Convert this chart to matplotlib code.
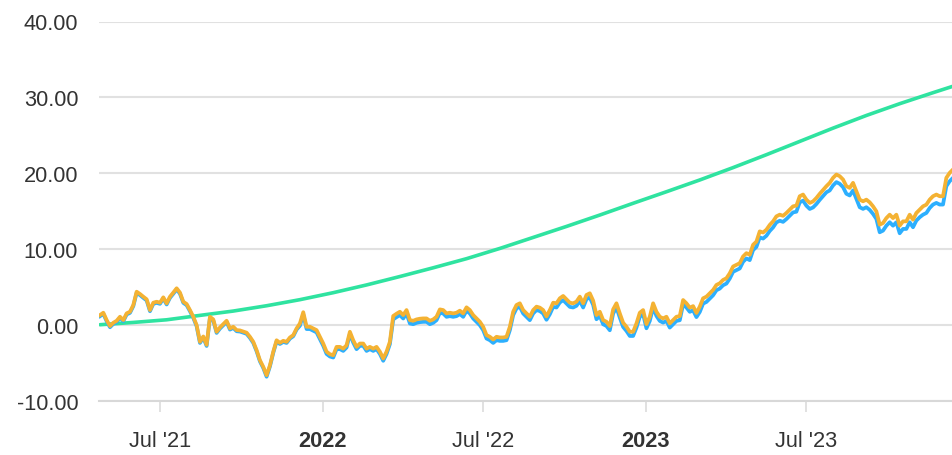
import matplotlib
matplotlib.use("Agg")
import matplotlib.pyplot as plt
import pandas as pd

# ---- data ----
start_date = "2021-04-24 03:00"
step = "5423min"   # sampling interval of the readings (~3.77 days)

orange_vals = [
    1.32, 1.63, 0.66, -0.13, 0.31, 0.57, 1.10, 0.66, 1.55, 1.76,
    2.65, 4.40, 4.10, 3.74, 3.40, 1.98, 2.95, 3.08, 2.95, 3.66,
    2.87, 3.74, 4.28, 4.85, 4.28, 3.08, 2.78, 1.98, 1.10, 0.00,
    -2.20, -1.50, -2.60, 1.10, 0.75, -0.88, -0.31, 0.13, 0.57, -0.44,
    -0.22, -0.66, -0.70, -0.85, -1.00, -1.54, -2.20, -3.30, -4.63, -5.50,
    -6.60, -5.30, -3.50, -2.00, -2.34, -2.07, -2.20, -1.63, -1.32, -0.44,
    0.22, 1.70, -0.22, -0.22, -0.44, -0.66, -1.54, -2.43, -3.50, -3.84,
    -3.97, -2.87, -2.87, -3.10, -2.65, -0.88, -2.00, -2.87, -2.43, -2.43,
    -3.10, -2.87, -3.10, -2.87, -3.50, -4.40, -3.50, -2.20, 1.20, 1.50,
    1.76, 1.32, 1.98, 0.66, 0.57, 0.75, 0.84, 0.88, 0.88, 0.57,
    0.75, 1.10, 2.07, 1.98, 1.54, 1.63, 1.54, 1.63, 1.90, 1.54,
    2.34, 1.98, 1.32, 0.88, 0.44, -0.22, -1.32, -1.54, -1.90, -1.54,
    -1.63, -1.63, -1.54, -0.22, 1.76, 2.65, 2.87, 1.98, 1.54, 1.10,
    1.98, 2.43, 2.30, 1.98, 1.15, 1.98, 2.95, 2.87, 3.53, 3.84,
    3.40, 2.95, 2.87, 3.09, 3.75, 2.87, 3.97, 4.19, 3.22, 1.32,
    1.76, 0.66, 0.44, -0.13, 2.07, 2.87, 1.54, 0.31, -0.22, -0.88,
    -0.88, 0.22, 1.63, 1.98, 0.13, 1.10, 2.87, 1.76, 1.10, 0.88,
    1.10, 0.22, 0.66, 1.10, 1.19, 3.30, 2.87, 2.30, 2.50, 1.60,
    2.43, 3.53, 3.75, 4.19, 4.63, 5.29, 5.51, 5.95, 6.17, 6.83,
    7.72, 7.94, 8.16, 9.04, 9.48, 9.26, 10.58, 11.00, 12.35, 12.20,
    12.57, 13.20, 13.67, 14.33, 14.55, 14.40, 14.77, 15.20, 15.65, 15.74,
    16.98, 17.20, 16.53, 16.10, 16.30, 16.75, 17.30, 17.80, 18.30, 18.74,
    19.40, 19.84, 19.62, 19.18, 18.30, 18.08, 18.74, 17.64, 16.53, 16.31,
    16.53, 16.18, 15.65, 14.99, 13.23, 13.45, 14.10, 14.55, 14.10, 14.55,
    13.10, 13.67, 13.67, 14.55, 13.89, 14.77, 15.21, 15.65, 15.87, 16.53,
    16.98, 17.20, 16.98, 16.98, 19.40, 20.06, 20.50,
]

blue_vals = [
    1.17, 1.48, 0.51, -0.28, 0.16, 0.42, 0.95, 0.51, 1.40, 1.61,
    2.50, 4.25, 3.95, 3.59, 3.25, 1.83, 2.80, 2.93, 2.80, 3.51,
    2.72, 3.59, 4.13, 4.70, 4.13, 2.93, 2.63, 1.83, 0.95, -0.15,
    -2.35, -1.65, -2.75, 0.95, 0.60, -1.03, -0.46, -0.02, 0.42, -0.59,
    -0.37, -0.81, -0.85, -1.00, -1.15, -1.69, -2.35, -3.45, -4.78, -5.65,
    -6.80, -5.45, -3.65, -2.15, -2.49, -2.22, -2.35, -1.78, -1.47, -0.59,
    -0.08, 1.40, -0.52, -0.52, -0.74, -0.96, -1.84, -2.73, -3.80, -4.14,
    -4.27, -3.17, -3.17, -3.40, -2.95, -1.18, -2.30, -3.17, -2.73, -2.73,
    -3.40, -3.17, -3.40, -3.17, -3.80, -4.70, -3.80, -2.50, 0.75, 1.05,
    1.31, 0.87, 1.53, 0.21, 0.12, 0.30, 0.39, 0.43, 0.43, 0.12,
    0.30, 0.65, 1.62, 1.53, 1.09, 1.18, 1.09, 1.18, 1.45, 1.09,
    1.89, 1.53, 0.87, 0.43, -0.01, -0.67, -1.77, -1.99, -2.35, -1.99,
    -2.08, -2.08, -1.99, -0.67, 1.31, 2.20, 2.42, 1.53, 1.09, 0.65,
    1.53, 1.98, 1.85, 1.53, 0.70, 1.43, 2.40, 2.32, 2.98, 3.29,
    2.85, 2.40, 2.32, 2.54, 3.20, 2.32, 3.42, 3.64, 2.67, 0.77,
    1.21, 0.11, -0.11, -0.68, 1.52, 2.32, 0.99, -0.24, -0.77, -1.43,
    -1.43, -0.33, 1.08, 1.43, -0.42, 0.55, 2.32, 1.21, 0.55, 0.33,
    0.55, -0.33, 0.11, 0.55, 0.64, 2.75, 2.32, 1.75, 1.95, 1.05,
    1.73, 2.83, 3.05, 3.49, 3.93, 4.59, 4.81, 5.25, 5.47, 6.13,
    7.02, 7.24, 7.46, 8.34, 8.78, 8.56, 9.88, 10.30, 11.55, 11.40,
    11.77, 12.40, 12.87, 13.53, 13.75, 13.60, 13.97, 14.40, 14.85, 14.94,
    16.18, 16.40, 15.73, 15.30, 15.50, 15.95, 16.50, 17.00, 17.50, 17.74,
    18.40, 18.84, 18.62, 18.18, 17.30, 17.08, 17.74, 16.64, 15.53, 15.31,
    15.53, 15.18, 14.65, 13.99, 12.23, 12.45, 13.10, 13.55, 13.10, 13.55,
    12.10, 12.67, 12.67, 13.55, 12.89, 13.77, 14.21, 14.55, 14.77, 15.43,
    15.88, 16.10, 15.88, 15.88, 18.30, 18.96, 19.40,
]

# green curve read at every 10th sample, plus the last one
green_vals = [
    0.05, 0.35, 0.70, 1.28, 1.85, 2.55, 3.35, 4.27, 5.29, 6.40,
    7.55, 8.75, 10.10, 11.55, 13.00, 14.50, 16.05, 17.57, 19.12, 20.75,
    22.45, 24.20, 25.95, 27.62, 29.17, 30.62, 31.47,
]

tick_dates = ["2021-07-01", "2022-01-01", "2022-07-01", "2023-01-01", "2023-07-01"]
tick_labels = ["Jul '21", "2022", "Jul '22", "2023", "Jul '23"]
bold_ticks = [False, True, False, True, False]
y_ticks = [-10, 0, 10, 20, 30, 40]

# ---- build ----
dates = pd.date_range(start_date, periods=len(orange_vals), freq=step)
green_dates = list(dates[::10]) + [dates[-1]]

W, H = 953, 456
fig = plt.figure(figsize=(W / 100, H / 100), dpi=100)
left_px, right_px, top_px, bottom_px = 99, 953, 22.5, 402
ax = fig.add_axes([left_px / W, 1 - bottom_px / H,
                   (right_px - left_px) / W, (bottom_px - top_px) / H])

FONT = ["Liberation Sans", "DejaVu Sans"]
TXT = "#333333"
GRID = "#e1e1e1"

ax.plot(green_dates, green_vals, color="#2fe3a0", lw=2.6, solid_capstyle="round", zorder=3)
ax.plot(dates, blue_vals, color="#2caffe", lw=2.7, solid_joinstyle="round", zorder=4)
ax.plot(dates, orange_vals, color="#f4b233", lw=2.7, solid_joinstyle="round", zorder=5)

ax.set_ylim(-10, 40)
ax.set_xlim(pd.Timestamp("2021-04-23"), dates[-1])

ax.set_yticks(y_ticks)
ax.set_yticklabels([f"{v:.2f}" for v in y_ticks], fontfamily=FONT, fontsize=15.7, color=TXT)
ax.tick_params(axis="y", length=0, pad=15)
ax.yaxis.grid(True, color=GRID, lw=1.5, zorder=0)
ax.set_axisbelow(True)

ax.set_xticks([pd.Timestamp(d) for d in tick_dates])
ax.set_xticklabels(tick_labels, fontfamily=FONT, fontsize=15.7, color=TXT)
for lab, b in zip(ax.get_xticklabels(), bold_ticks):
    if b:
        lab.set_fontweight("bold")
ax.tick_params(axis="x", length=8, width=1.1, color="#d8d8d8", pad=13, direction="out")

for s in ["top", "right", "left"]:
    ax.spines[s].set_visible(False)
ax.spines["bottom"].set_color("#d8d8d8")
ax.spines["bottom"].set_linewidth(1.5)

fig.savefig("out.png", dpi=100)
